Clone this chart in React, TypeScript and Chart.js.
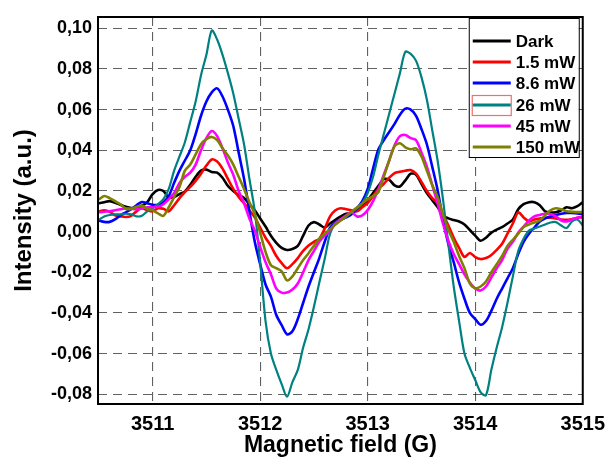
import React, { useEffect, useRef } from "react";
import { Chart, registerables } from "chart.js";
Chart.register(...registerables);

const field = [
  3510.5, 3510.55, 3510.6, 3510.65, 3510.7, 3510.75, 3510.8, 3510.85, 3510.9, 3510.95,
  3511.0, 3511.05, 3511.1, 3511.15, 3511.2, 3511.25, 3511.3, 3511.35, 3511.4, 3511.45,
  3511.5, 3511.55, 3511.6, 3511.65, 3511.7, 3511.75, 3511.8, 3511.85, 3511.9, 3511.95,
  3512.0, 3512.05, 3512.1, 3512.15, 3512.2, 3512.25, 3512.3, 3512.35, 3512.4, 3512.45,
  3512.5, 3512.55, 3512.6, 3512.65, 3512.7, 3512.75, 3512.8, 3512.85, 3512.9, 3512.95,
  3513.0, 3513.05, 3513.1, 3513.15, 3513.2, 3513.25, 3513.3, 3513.35, 3513.4, 3513.45,
  3513.5, 3513.55, 3513.6, 3513.65, 3513.7, 3513.75, 3513.8, 3513.85, 3513.9, 3513.95,
  3514.0, 3514.05, 3514.1, 3514.15, 3514.2, 3514.25, 3514.3, 3514.35, 3514.4, 3514.45,
  3514.5, 3514.55, 3514.6, 3514.65, 3514.7, 3514.75, 3514.8, 3514.85, 3514.9, 3514.95,
  3515.0,
];

const xTicks = [3511, 3512, 3513, 3514, 3515];
const yTicks = [-0.08, -0.06, -0.04, -0.02, 0, 0.02, 0.04, 0.06, 0.08, 0.1];

const seriesLabels = ["Dark", "1.5 mW", "8.6 mW", "26 mW", "45 mW", "150 mW"];
const seriesColors = ["#000000", "#ff0000", "#0000ff", "#008080", "#ff00ff", "#808000"];

const dark = [
  0.0140, 0.0145, 0.0150, 0.0142, 0.0132, 0.0122, 0.0116, 0.0118, 0.0128, 0.0145,
  0.0185, 0.0205, 0.0200, 0.0168, 0.0170, 0.0185, 0.0198, 0.0230, 0.0270, 0.0300,
  0.0305, 0.0293, 0.0290, 0.0265, 0.0225, 0.0200, 0.0180, 0.0165, 0.0135, 0.0105,
  0.0065, 0.0025, -0.0020, -0.0055, -0.0080, -0.0090, -0.0085, -0.0070, -0.0020, 0.0030,
  0.0047, 0.0035, 0.0020, 0.0040, 0.0058, 0.0075, 0.0088, 0.0090, 0.0110, 0.0130,
  0.0155, 0.0190, 0.0225, 0.0258, 0.0255, 0.0228, 0.0222, 0.0252, 0.0285, 0.0280,
  0.0235, 0.0190, 0.0155, 0.0121, 0.0080, 0.0065, 0.0057, 0.0050, 0.0035, 0.0008,
  -0.0020, -0.0045, -0.0030, -0.0005, 0.0010, 0.0022, 0.0040, 0.0060, 0.0110, 0.0135,
  0.0145, 0.0145, 0.0130, 0.0100, 0.0095, 0.0095, 0.0105, 0.0120, 0.0115, 0.0125,
  0.0145,
];

const p15 = [
  0.0100, 0.0105, 0.0098, 0.0080, 0.0075, 0.0072, 0.0078, 0.0100, 0.0115, 0.0105,
  0.0100, 0.0115, 0.0112, 0.0100, 0.0130, 0.0165, 0.0195, 0.0220, 0.0250, 0.0285,
  0.0325, 0.0355, 0.0345, 0.0310, 0.0260, 0.0210, 0.0170, 0.0140, 0.0105, 0.0070,
  0.0020, -0.0030, -0.0070, -0.0120, -0.0155, -0.0180, -0.0160, -0.0130, -0.0095, -0.0068,
  -0.0050, -0.0035, 0.0015, 0.0075, 0.0105, 0.0115, 0.0110, 0.0105, 0.0100, 0.0120,
  0.0140, 0.0175, 0.0210, 0.0235, 0.0265, 0.0288, 0.0295, 0.0300, 0.0303, 0.0285,
  0.0245, 0.0200, 0.0165, 0.0140, 0.0085, 0.0030, -0.0030, -0.0080, -0.0125, -0.0105,
  -0.0125, -0.0135, -0.0130, -0.0115, -0.0090, -0.0060, -0.0010, 0.0040, 0.0095, 0.0070,
  0.0050, 0.0060, 0.0065, 0.0068, 0.0068, 0.0065, 0.0060, 0.0058, 0.0062, 0.0068,
  0.0072,
];

const p86 = [
  0.0055, 0.0048, 0.0048, 0.0060, 0.0080, 0.0095, 0.0110, 0.0130, 0.0146, 0.0140,
  0.0132, 0.0132, 0.0145, 0.0175, 0.0240, 0.0300, 0.0350, 0.0400, 0.0480, 0.0570,
  0.0640, 0.0685, 0.0705, 0.0665, 0.0600, 0.0520, 0.0390, 0.0260, 0.0100, -0.0050,
  -0.0160, -0.0260, -0.0320, -0.0410, -0.0460, -0.0505, -0.0490, -0.0430, -0.0350, -0.0270,
  -0.0200, -0.0130, -0.0050, 0.0020, 0.0045, 0.0058, 0.0070, 0.0085, 0.0115, 0.0150,
  0.0210, 0.0310, 0.0405, 0.0450, 0.0490, 0.0530, 0.0575, 0.0605, 0.0600, 0.0570,
  0.0505, 0.0430, 0.0320, 0.0205, 0.0060, -0.0060, -0.0150, -0.0250, -0.0330, -0.0400,
  -0.0430, -0.0458, -0.0440, -0.0390, -0.0330, -0.0280, -0.0230, -0.0180, -0.0110, -0.0050,
  -0.0010, 0.0020, 0.0050, 0.0065, 0.0075, 0.0082, 0.0088, 0.0092, 0.0092, 0.0090,
  0.0085,
];

const p26 = [
  0.0058, 0.0075, 0.0082, 0.0085, 0.0085, 0.0088, 0.0085, 0.0075, 0.0078, 0.0100,
  0.0115, 0.0135, 0.0160, 0.0210, 0.0300, 0.0370, 0.0440, 0.0540, 0.0640, 0.0770,
  0.0870, 0.0990, 0.0945, 0.0870, 0.0780, 0.0680, 0.0555, 0.0430, 0.0260, 0.0100,
  -0.0150, -0.0440, -0.0600, -0.0680, -0.0750, -0.0812, -0.0740, -0.0680, -0.0570, -0.0480,
  -0.0370, -0.0250, -0.0135, -0.0010, 0.0040, 0.0057, 0.0075, 0.0095, 0.0115, 0.0140,
  0.0190, 0.0270, 0.0380, 0.0480, 0.0580, 0.0680, 0.0780, 0.0885, 0.0875, 0.0840,
  0.0760, 0.0650, 0.0500, 0.0350, 0.0160, -0.0060, -0.0270, -0.0440, -0.0600, -0.0670,
  -0.0730, -0.0790, -0.0805, -0.0680, -0.0570, -0.0470, -0.0350, -0.0220, -0.0095, -0.0035,
  0.0005, 0.0015, 0.0025, 0.0035, 0.0045, 0.0047, 0.0030, 0.0018, 0.0050, 0.0060,
  0.0030,
];

const p45 = [
  0.0095, 0.0098, 0.0100, 0.0105, 0.0110, 0.0115, 0.0112, 0.0110, 0.0115, 0.0120,
  0.0120, 0.0122, 0.0135, 0.0160, 0.0190, 0.0240, 0.0270, 0.0290, 0.0330, 0.0400,
  0.0460, 0.0495, 0.0470, 0.0410, 0.0340, 0.0280, 0.0200, 0.0140, 0.0065, 0.0005,
  -0.0075, -0.0150, -0.0210, -0.0280, -0.0300, -0.0300, -0.0285, -0.0255, -0.0200, -0.0140,
  -0.0095, -0.0050, -0.0020, 0.0005, 0.0040, 0.0060, 0.0080, 0.0095, 0.0075, 0.0080,
  0.0106, 0.0150, 0.0210, 0.0280, 0.0350, 0.0425, 0.0470, 0.0475, 0.0460, 0.0450,
  0.0390, 0.0320, 0.0230, 0.0140, 0.0040, -0.0045, -0.0110, -0.0160, -0.0210, -0.0250,
  -0.0280, -0.0290, -0.0270, -0.0225, -0.0180, -0.0140, -0.0085, -0.0050, -0.0005, 0.0025,
  0.0055, 0.0075, 0.0082, 0.0088, 0.0085, 0.0075, 0.0055, 0.0050, 0.0060, 0.0068,
  0.0072,
];

const p150 = [
  0.0158, 0.0175, 0.0165, 0.0150, 0.0135, 0.0112, 0.0112, 0.0122, 0.0128, 0.0112,
  0.0105, 0.0090, 0.0078, 0.0120, 0.0170, 0.0220, 0.0300, 0.0330, 0.0380, 0.0430,
  0.0455, 0.0466, 0.0450, 0.0410, 0.0375, 0.0330, 0.0270, 0.0210, 0.0145, 0.0085,
  -0.0005, -0.0100, -0.0165, -0.0180, -0.0195, -0.0240, -0.0220, -0.0180, -0.0140, -0.0106,
  -0.0070, -0.0035, -0.0010, 0.0012, 0.0035, 0.0055, 0.0075, 0.0098, 0.0118, 0.0138,
  0.0160, 0.0175, 0.0195, 0.0270, 0.0350, 0.0420, 0.0435, 0.0415, 0.0405, 0.0410,
  0.0370, 0.0300, 0.0230, 0.0170, 0.0085, 0.0010, -0.0050, -0.0120, -0.0180, -0.0255,
  -0.0278, -0.0270, -0.0245, -0.0200, -0.0160, -0.0120, -0.0070, -0.0040, -0.0010, 0.0023,
  0.0035, 0.0045, 0.0055, 0.0080, 0.0105, 0.0115, 0.0110, 0.0100, 0.0098, 0.0096,
  0.0096,
];

const seriesValues = [dark, p15, p86, p26, p45, p150];

const FONT = "'Liberation Sans', Arial, sans-serif";

const frameAndLegend = {
  id: "frameAndLegend",
  afterDraw(chart: any) {
    const { ctx, chartArea } = chart;
    ctx.save();
    ctx.strokeStyle = "#000";
    ctx.lineWidth = 2;
    ctx.strokeRect(chartArea.left, chartArea.top, chartArea.right - chartArea.left, chartArea.bottom - chartArea.top);
    const w = 110;
    const h = 139;
    const left = chartArea.right - 4 - w;
    const top = chartArea.top + 1;
    ctx.fillStyle = "#fff";
    ctx.fillRect(left, top, w, h);
    ctx.lineWidth = 1;
    ctx.strokeStyle = "#000";
    ctx.strokeRect(left + 0.5, top + 0.5, w, h);
    ctx.font = `bold 17px ${FONT}`;
    ctx.textBaseline = "middle";
    ctx.textAlign = "left";
    chart.data.datasets.forEach((ds: any, i: number) => {
      const y = Math.round(top + 23 + i * 21.2);
      if (i === 3) {
        ctx.strokeStyle = "#f07070";
        ctx.lineWidth = 1.2;
        ctx.strokeRect(left + 3.5, y - 9.5, 39, 20);
      }
      ctx.strokeStyle = ds.borderColor;
      ctx.lineWidth = 3;
      ctx.beginPath();
      ctx.moveTo(left + 4, y);
      ctx.lineTo(left + 42, y);
      ctx.stroke();
      ctx.fillStyle = "#000";
      ctx.fillText(ds.label, left + 47, y + 1);
    });
    ctx.restore();
  },
};

export default function App() {
  const ref = useRef<HTMLCanvasElement>(null);
  useEffect(() => {
    if (!ref.current) return;
    const n = seriesValues.length;
    const chart = new Chart(ref.current, {
      type: "line",
      data: {
        labels: field,
        datasets: seriesValues.map((vals, i) => ({
          label: seriesLabels[i],
          data: vals.map((v, j) => ({ x: field[j], y: v })),
          borderColor: seriesColors[i],
          backgroundColor: seriesColors[i],
          borderWidth: i === 3 ? 2.2 : 2.6,
          pointRadius: 0,
          tension: 0.3,
          fill: false,
          order: n - i,
        })),
      },
      options: {
        responsive: false,
        animation: false,
        events: [],
        layout: { padding: { left: 0, top: 17, right: 26, bottom: 0 } },
        plugins: { legend: { display: false }, tooltip: { enabled: false } },
        scales: {
          x: {
            type: "linear",
            min: 3510.492,
            max: 3515.0,
            afterBuildTicks: (s: any) => {
              s.ticks = xTicks.map((v) => ({ value: v }));
            },
            afterFit: (s: any) => {
              s.height = 55;
            },
            grid: { color: "rgba(0,0,0,0.62)", lineWidth: 1.1, drawTicks: false },
            border: { display: false, dash: [9, 6] },
            ticks: {
              autoSkip: false,
              maxRotation: 0,
              padding: 8,
              color: "#000",
              font: { family: FONT, size: 20, weight: "bold" },
              callback: (v: any) => String(v),
            },
            title: {
              display: true,
              text: "Magnetic field (G)",
              color: "#000",
              font: { family: FONT, size: 23, weight: "bold" },
              padding: { top: 0, bottom: 0 },
            },
          },
          y: {
            type: "linear",
            min: -0.0848,
            max: 0.1056,
            afterBuildTicks: (s: any) => {
              s.ticks = yTicks.map((v) => ({ value: v }));
            },
            afterFit: (s: any) => {
              s.width = 98;
            },
            grid: { color: "rgba(0,0,0,0.62)", lineWidth: 1.1, drawTicks: false },
            border: { display: false, dash: [9, 6] },
            ticks: {
              padding: 6,
              color: "#000",
              font: { family: FONT, size: 18, weight: "bold" },
              callback: (v: any) => Number(v).toFixed(2).replace(".", ","),
            },
            title: {
              display: true,
              text: "Intensity (a.u.)",
              color: "#000",
              font: { family: FONT, size: 24, weight: "bold" },
              padding: { top: 10, bottom: 0 },
            },
          },
        },
      },
      plugins: [frameAndLegend],
    } as any);
    return () => chart.destroy();
  }, []);
  return (
    <div style={{ position: "absolute", left: 0, top: 0, width: 613, height: 459, background: "#fff" }}>
      <canvas ref={ref} width={613} height={459} style={{ display: "block" }} />
    </div>
  );
}
